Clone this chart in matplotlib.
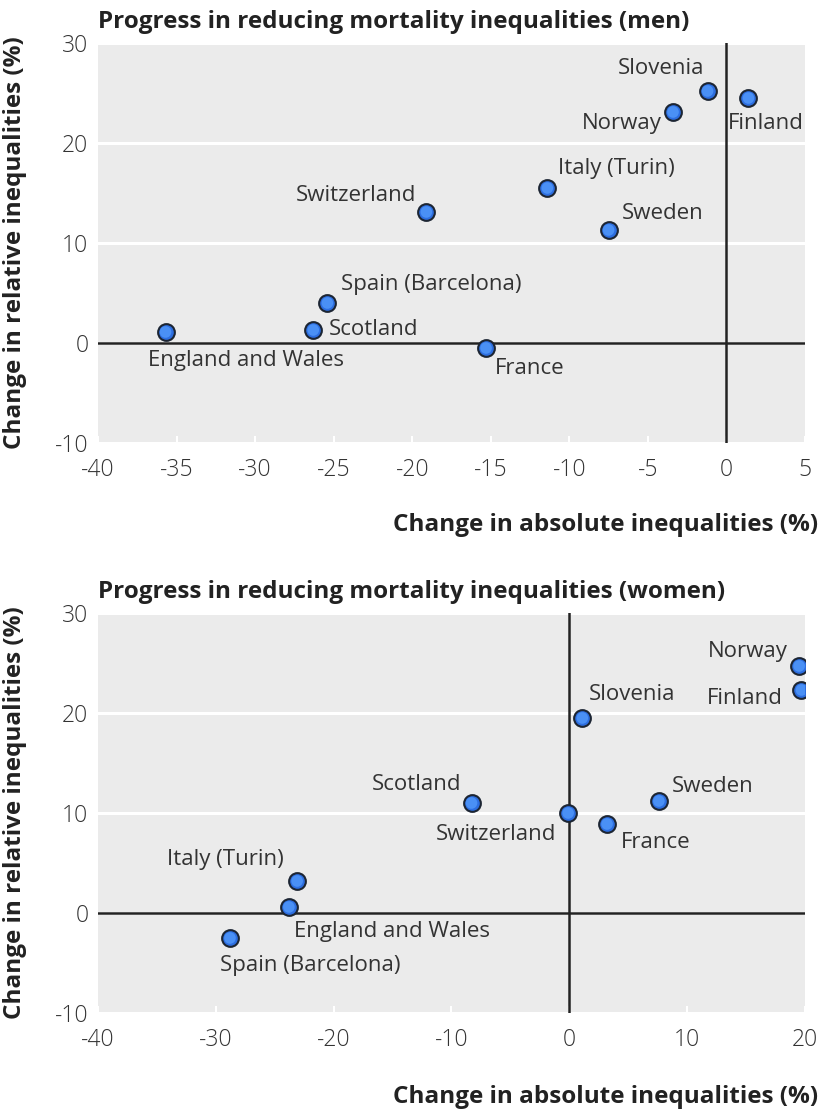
import matplotlib.pyplot as plt

plt.rcParams['font.family'] = ['Open Sans', 'DejaVu Sans']
plt.rcParams['axes.unicode_minus'] = False

# men
men_countries = ['England and Wales', 'Scotland', 'Spain (Barcelona)', 'France', 'Switzerland',
                 'Italy (Turin)', 'Sweden', 'Norway', 'Slovenia', 'Finland']
men_abs = [-35.7, -26.3, -25.4, -15.3, -19.1, -11.4, -7.5, -3.4, -1.2, 1.4]
men_rel = [1.1, 1.3, 4.0, -0.5, 13.1, 15.5, 11.3, 23.1, 25.2, 24.5]

# women
women_countries = ['Spain (Barcelona)', 'England and Wales', 'Italy (Turin)', 'Scotland', 'Switzerland',
                   'France', 'Sweden', 'Slovenia', 'Norway', 'Finland']
women_abs = [-28.8, -23.8, -23.1, -8.3, -0.1, 3.2, 7.6, 1.1, 19.5, 19.7]
women_rel = [-2.5, 0.6, 3.2, 11.0, 10.0, 8.9, 11.2, 19.5, 24.7, 22.3]

men_xticks = [-40, -35, -30, -25, -20, -15, -10, -5, 0, 5]
women_xticks = [-40, -30, -20, -10, 0, 10, 20]
yticks = [-10, 0, 10, 20, 30]

# label placement: (dx, dy) in pixels, horizontal alignment
men_labels = {
    'England and Wales': (-18, -29, 'left'),
    'Scotland': (16, 0, 'left'),
    'Spain (Barcelona)': (14, 18, 'left'),
    'France': (9, -21, 'left'),
    'Switzerland': (-10, 16, 'right'),
    'Italy (Turin)': (11, 19, 'left'),
    'Sweden': (13, 16, 'left'),
    'Norway': (-11, -12, 'right'),
    'Slovenia': (-3, 22, 'right'),
    'Finland': (-21, -26, 'left'),
}
women_labels = {
    'Spain (Barcelona)': (-10, -27, 'left'),
    'England and Wales': (5, -24, 'left'),
    'Italy (Turin)': (-13, 21, 'right'),
    'Scotland': (-10, 19, 'right'),
    'Switzerland': (-12, -22, 'right'),
    'France': (14, -18, 'left'),
    'Sweden': (13, 15, 'left'),
    'Slovenia': (7, 23, 'left'),
    'Norway': (-11, 14, 'right'),
    'Finland': (-19, -8, 'right'),
}

TEXT = '#333333'


def draw_panel(ax, xs, ys, names, labels, xticks, xlim, title):
    ax.set_facecolor('#ebebeb')
    for s in ax.spines.values():
        s.set_visible(False)
    ax.set_xlim(*xlim)
    ax.set_ylim(-10, 30)
    ax.set_yticks(yticks)
    ax.set_xticks(xticks)
    ax.grid(axis='y', color='white', linewidth=2.2, zorder=1)
    ax.set_axisbelow(True)
    ax.axhline(0, color='#222222', linewidth=1.8, zorder=2)
    ax.axvline(0, color='#222222', linewidth=1.8, zorder=2)
    ax.tick_params(axis='x', direction='in', length=5, width=1.5, color='white', pad=11,
                   labelsize=16.5, labelcolor=TEXT)
    ax.tick_params(axis='y', length=0, pad=7, labelsize=16.5, labelcolor=TEXT)
    for lab in ax.get_xticklabels() + ax.get_yticklabels():
        lab.set_fontweight('light')
    # shaded marker: dark rim, lighter centre
    ax.scatter(xs, ys, s=145, facecolor='#2d6ee0', edgecolor='#1c2533', linewidth=1.5, zorder=4)
    ax.scatter(xs, ys, s=70, facecolor='#4a90f5', edgecolor='none', zorder=4)
    for x, y, name in zip(xs, ys, names):
        dx, dy, ha = labels[name]
        ax.annotate(name, (x, y), xytext=(dx, dy), textcoords='offset pixels',
                    ha=ha, va='center', fontsize=16, color=TEXT, zorder=5)
    ax.set_title(title, loc='left', fontsize=17.5, fontweight='bold', color='#222222', pad=11)


fig = plt.figure(figsize=(8.2, 11.16), dpi=100)
ax1 = fig.add_axes([98 / 820, 1 - 443 / 1116, 707 / 820, 400 / 1116])
ax2 = fig.add_axes([98 / 820, 1 - 1013 / 1116, 707 / 820, 400 / 1116])

draw_panel(ax1, men_abs, men_rel, men_countries, men_labels, men_xticks, (-40, 5),
           'Progress in reducing mortality inequalities (men)')
draw_panel(ax2, women_abs, women_rel, women_countries, women_labels, women_xticks, (-40, 20),
           'Progress in reducing mortality inequalities (women)')

for yc, xlab_y in [(243, 525), (813, 1097)]:
    fig.text(15 / 820, 1 - yc / 1116, 'Change in relative inequalities (%)', rotation=90,
             ha='center', va='center', fontsize=17.5, fontweight='bold', color='#222222')
    fig.text(818 / 820, 1 - xlab_y / 1116, 'Change in absolute inequalities (%)',
             ha='right', va='center', fontsize=17.5, fontweight='bold', color='#222222')

plt.savefig('out.png', dpi=100)
